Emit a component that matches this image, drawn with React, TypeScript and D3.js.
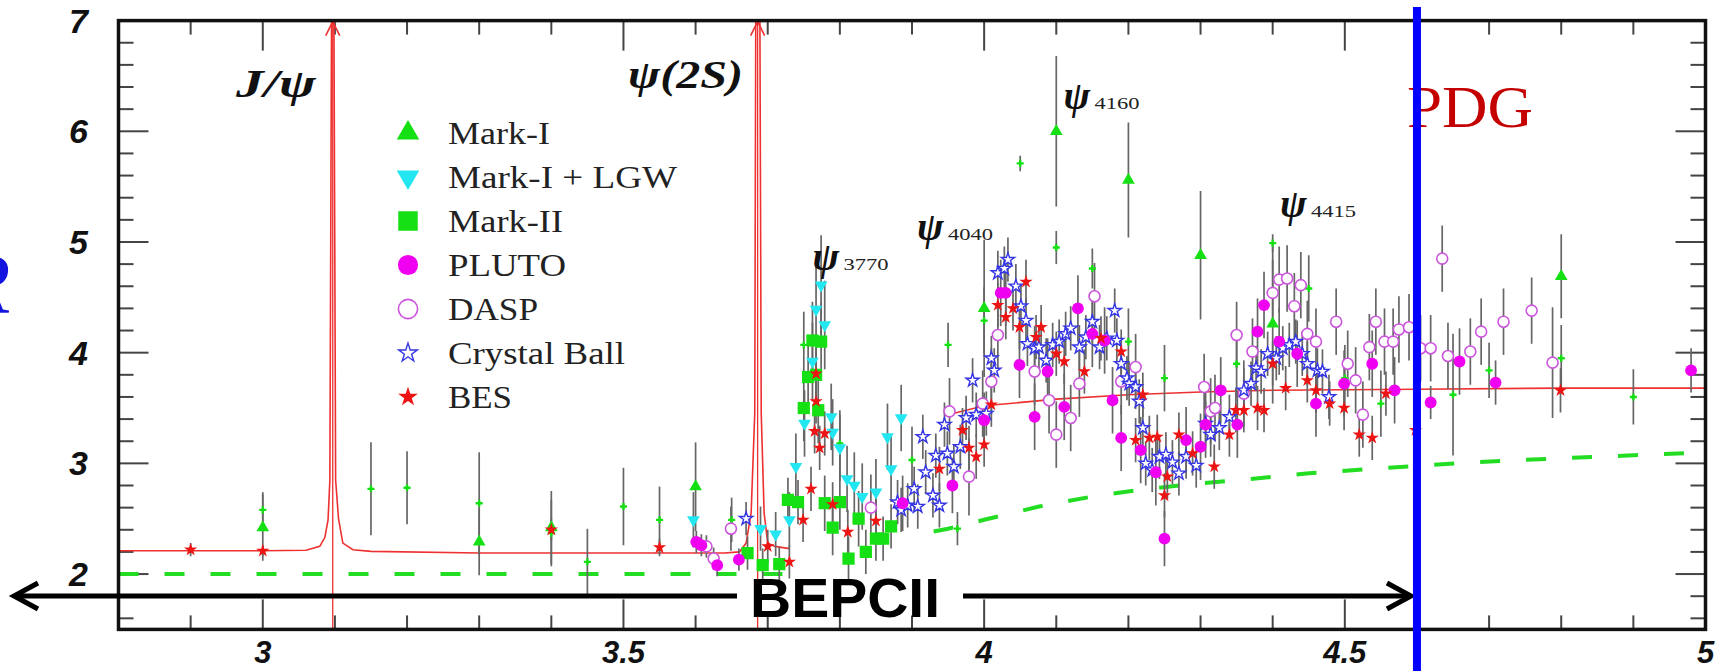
import React from 'react';
import * as d3 from 'd3';

const W = 1717;
const H = 671;
const X_DOMAIN: [number, number] = [2.8, 5];
const Y_DOMAIN: [number, number] = [1.5, 7];

const xTickValues = [3, 3.5, 4, 4.5, 5];
const xTickLabels = ['3', '3.5', '4', '4.5', '5'];
const yTickValues = [2, 3, 4, 5, 6, 7];
const yTickLabels = ['2', '3', '4', '5', '6', '7'];

type P = [number, number, number]; // sqrt(s) GeV, R, error

const markI: P[] = [
  [3.0, 2.42, 0.3], [3.3, 2.29, 0.3], [3.4, 2.42, 0.33], [3.6, 2.79, 0.4], [4.0, 4.4, 0.62],
  [4.1, 6.0, 0.68], [4.2, 5.56, 0.52], [4.3, 4.88, 0.58], [4.4, 4.26, 0.72], [4.8, 4.69, 0.38],
];
const markISmall: P[] = [
  [3.0, 2.58, 0.16], [3.15, 2.77, 0.42], [3.2, 2.78, 0.33], [3.3, 2.64, 0.46], [3.4, 2.37, 0.3],
  [3.45, 2.11, 0.3], [3.5, 2.61, 0.35], [3.55, 2.49, 0.3], [3.65, 2.49, 0.2], [3.75, 4.07, 0.3],
  [3.8, 3.18, 0.3], [3.9, 3.03, 0.3], [3.95, 4.07, 0.2], [3.963, 2.41, 0.15], [4.0, 4.29, 0.3],
  [4.05, 5.71, 0.07], [4.1, 4.95, 0.15], [4.15, 4.76, 0.18], [4.2, 4.1, 0.3], [4.25, 3.77, 0.3],
  [4.35, 3.9, 0.3], [4.4, 4.99, 0.08], [4.45, 4.58, 0.3], [4.5, 3.77, 0.3], [4.55, 3.54, 0.3],
  [4.6, 3.62, 0.3], [4.65, 3.62, 0.55], [4.7, 3.84, 0.25], [4.8, 3.95, 0.3], [4.9, 3.6, 0.25],
];
const markILGW: P[] = [
  [3.597, 2.49, 0.25], [3.69, 2.41, 0.2], [3.711, 2.36, 0.2], [3.73, 2.49, 0.25], [3.739, 2.97, 0.3],
  [3.751, 3.36, 0.3], [3.762, 3.92, 0.35], [3.767, 4.39, 0.4], [3.774, 4.61, 0.45], [3.779, 4.25, 0.4],
  [3.788, 3.42, 0.3], [3.79, 3.28, 0.3], [3.8, 3.14, 0.3], [3.81, 2.86, 0.3], [3.82, 2.8, 0.3],
  [3.831, 2.7, 0.3], [3.85, 2.74, 0.3], [3.866, 3.24, 0.3], [3.871, 2.95, 0.3], [3.885, 3.41, 0.3],
];
const markII: P[] = [
  [3.672, 2.19, 0.15], [3.693, 2.08, 0.15], [3.716, 2.09, 0.15], [3.728, 2.67, 0.2], [3.742, 2.65, 0.2],
  [3.75, 3.5, 0.3], [3.756, 3.78, 0.3], [3.762, 4.11, 0.35], [3.767, 3.8, 0.3], [3.774, 4.1, 0.35],
  [3.77, 3.48, 0.3], [3.779, 2.64, 0.25], [3.79, 2.42, 0.25], [3.8, 2.65, 0.25], [3.812, 2.14, 0.2],
  [3.826, 2.5, 0.25], [3.836, 2.2, 0.2], [3.85, 2.32, 0.2], [3.86, 2.32, 0.2], [3.871, 2.43, 0.2],
];
const pluto: P[] = [
  [3.601, 2.29, 0.1], [3.608, 2.26, 0.1], [3.63, 2.08, 0.1], [3.66, 2.13, 0.1], [3.887, 2.64, 0.25],
  [3.956, 2.8, 0.25], [4.0, 3.39, 0.25], [4.023, 4.54, 0.3], [4.03, 4.54, 0.3], [4.049, 3.89, 0.3],
  [4.07, 3.42, 0.3], [4.088, 3.83, 0.3], [4.111, 3.51, 0.3], [4.13, 4.4, 0.3], [4.15, 4.17, 0.3],
  [4.167, 4.11, 0.3], [4.178, 3.57, 0.3], [4.19, 3.23, 0.3], [4.217, 3.12, 0.3], [4.238, 2.92, 0.3],
  [4.25, 2.32, 0.25], [4.28, 3.21, 0.3], [4.3, 3.15, 0.3], [4.307, 3.35, 0.3], [4.328, 3.66, 0.3],
  [4.351, 3.35, 0.3], [4.379, 4.19, 0.3], [4.388, 4.43, 0.3], [4.409, 4.1, 0.3], [4.434, 3.99, 0.3],
  [4.46, 3.54, 0.3], [4.499, 3.72, 0.3], [4.538, 3.9, 0.3], [4.569, 3.66, 0.3], [4.619, 3.55, 0.15],
  [4.659, 3.92, 0.3], [4.709, 3.73, 0.2], [4.98, 3.84, 0.2],
];
const dasp: P[] = [
  [3.615, 2.25, 0.1], [3.625, 2.14, 0.1], [3.649, 2.41, 0.2], [3.843, 2.6, 0.3], [3.952, 3.47, 0.3],
  [3.979, 2.88, 0.35], [3.998, 3.54, 0.3], [4.01, 3.74, 0.3], [4.019, 4.16, 0.3], [4.07, 3.83, 0.3],
  [4.09, 3.57, 0.3], [4.1, 3.26, 0.3], [4.12, 3.41, 0.3], [4.132, 3.72, 0.3], [4.153, 4.51, 0.3],
  [4.19, 3.74, 0.3], [4.21, 3.87, 0.3], [4.305, 3.69, 0.3], [4.314, 3.47, 0.3], [4.32, 3.5, 0.3],
  [4.35, 4.16, 0.3], [4.36, 3.63, 0.3], [4.372, 4.01, 0.3], [4.4, 4.54, 0.3], [4.409, 4.66, 0.3],
  [4.42, 4.67, 0.3], [4.43, 4.42, 0.3], [4.439, 4.61, 0.3], [4.448, 4.17, 0.3], [4.46, 4.1, 0.3],
  [4.488, 4.28, 0.3], [4.504, 3.9, 0.3], [4.515, 3.75, 0.3], [4.525, 3.44, 0.3], [4.534, 4.05, 0.3],
  [4.543, 4.28, 0.3], [4.555, 4.1, 0.3], [4.567, 4.1, 0.3], [4.575, 4.21, 0.3], [4.589, 4.23, 0.3],
  [4.605, 4.04, 0.3], [4.619, 4.04, 0.3], [4.635, 4.85, 0.3], [4.643, 3.97, 0.3], [4.674, 4.01, 0.3],
  [4.689, 4.19, 0.3], [4.72, 4.28, 0.3], [4.759, 4.38, 0.3], [4.788, 3.91, 0.5],
];
const crystalBall: P[] = [
  [3.67, 2.5, 0.15], [3.88, 2.65, 0.2], [3.885, 2.58, 0.2], [3.894, 2.62, 0.2], [3.903, 2.77, 0.2],
  [3.908, 2.61, 0.2], [3.915, 3.24, 0.2], [3.919, 2.92, 0.2], [3.929, 2.71, 0.2], [3.933, 3.07, 0.2],
  [3.938, 2.62, 0.2], [3.945, 3.35, 0.2], [3.949, 3.09, 0.2], [3.958, 2.97, 0.2], [3.967, 3.15, 0.2],
  [3.975, 3.41, 0.2], [3.984, 3.75, 0.2], [3.989, 3.44, 0.2], [4.003, 3.45, 0.2], [4.01, 3.95, 0.2],
  [4.014, 3.84, 0.2], [4.019, 4.72, 0.2], [4.028, 4.76, 0.2], [4.033, 4.84, 0.2], [4.044, 4.6, 0.2],
  [4.051, 4.42, 0.2], [4.058, 4.29, 0.2], [4.06, 4.08, 0.2], [4.07, 4.04, 0.2], [4.076, 4.05, 0.2],
  [4.086, 3.93, 0.2], [4.095, 4.07, 0.2], [4.104, 4.1, 0.2], [4.113, 4.17, 0.2], [4.12, 4.22, 0.2],
  [4.132, 4.05, 0.2], [4.141, 4.14, 0.2], [4.15, 4.28, 0.2], [4.16, 4.05, 0.2], [4.17, 4.13, 0.2],
  [4.181, 4.38, 0.2], [4.184, 4.11, 0.2], [4.19, 3.9, 0.2], [4.198, 3.77, 0.2], [4.201, 3.72, 0.2],
  [4.21, 3.69, 0.2], [4.215, 3.56, 0.2], [4.22, 3.32, 0.2], [4.224, 3.0, 0.2], [4.233, 2.94, 0.2],
  [4.243, 3.06, 0.2], [4.252, 3.08, 0.2], [4.261, 3.01, 0.2], [4.27, 2.91, 0.2], [4.28, 3.06, 0.2],
  [4.294, 2.98, 0.2], [4.307, 3.36, 0.2], [4.314, 3.26, 0.2], [4.326, 3.32, 0.2], [4.34, 3.42, 0.2],
  [4.36, 3.66, 0.2], [4.37, 3.72, 0.2], [4.377, 3.86, 0.2], [4.384, 3.83, 0.2], [4.393, 3.99, 0.2],
  [4.405, 3.95, 0.2], [4.414, 4.04, 0.2], [4.423, 4.07, 0.2], [4.432, 4.1, 0.2], [4.441, 3.99, 0.2],
  [4.448, 3.9, 0.2], [4.462, 3.84, 0.2], [4.469, 3.83, 0.2], [4.478, 3.6, 0.2],
];
const bes: P[] = [
  [2.9, 2.22, 0.06], [3.0, 2.21, 0.05], [3.4, 2.4, 0.1], [3.55, 2.24, 0.08], [3.7, 2.25, 0.15],
  [3.73, 2.11, 0.15], [3.749, 2.49, 0.2], [3.76, 2.77, 0.2], [3.765, 3.29, 0.2], [3.767, 3.56, 0.2],
  [3.767, 3.81, 0.2], [3.772, 3.14, 0.2], [3.779, 3.27, 0.2], [3.79, 2.63, 0.2], [3.811, 2.38, 0.2],
  [3.85, 2.48, 0.2], [3.938, 2.95, 0.2], [3.97, 3.3, 0.2], [3.979, 3.14, 0.2], [3.989, 3.06, 0.2],
  [4.0, 3.17, 0.2], [4.01, 3.53, 0.2], [4.019, 4.43, 0.2], [4.03, 4.32, 0.2], [4.04, 4.4, 0.2],
  [4.049, 4.23, 0.2], [4.058, 4.64, 0.2], [4.072, 4.14, 0.2], [4.079, 4.23, 0.2], [4.1, 3.99, 0.2],
  [4.111, 3.92, 0.2], [4.139, 3.83, 0.2], [4.162, 4.13, 0.2], [4.19, 4.01, 0.2], [4.21, 3.21, 0.2],
  [4.22, 3.62, 0.2], [4.229, 3.23, 0.2], [4.24, 3.24, 0.2], [4.25, 2.71, 0.2], [4.254, 2.88, 0.2],
  [4.27, 3.26, 0.2], [4.289, 3.09, 0.2], [4.319, 2.97, 0.2], [4.34, 3.26, 0.2], [4.349, 3.48, 0.2],
  [4.36, 3.48, 0.2], [4.379, 3.5, 0.2], [4.388, 3.48, 0.2], [4.4, 3.9, 0.2], [4.418, 3.68, 0.2],
  [4.448, 3.75, 0.2], [4.46, 3.66, 0.2], [4.479, 3.54, 0.2], [4.499, 3.5, 0.2], [4.52, 3.26, 0.2],
  [4.538, 3.23, 0.2], [4.557, 3.63, 0.2], [4.598, 3.3, 0.2], [4.799, 3.66, 0.2],
];

// Theory curves
const fitLow: [number, number][] = [
  [2.8, 2.21], [3.0, 2.21], [3.06, 2.215], [3.079, 2.25], [3.086, 2.33], [3.0905, 2.49], [3.093, 2.85],
  [3.0955, 7.3], [3.0985, 7.3], [3.101, 2.85], [3.105, 2.5], [3.111, 2.28], [3.125, 2.22], [3.15, 2.205],
  [3.3, 2.19], [3.5, 2.19], [3.64, 2.19], [3.661, 2.2], [3.67, 2.28], [3.677, 2.55], [3.682, 3.45],
  [3.6835, 7.3], [3.689, 7.3], [3.691, 3.45], [3.695, 2.55], [3.7, 2.28], [3.71, 2.25], [3.73, 2.23],
];
const fitHigh: [number, number][] = [
  [3.95, 3.44], [4.0, 3.52], [4.1, 3.58], [4.2, 3.62], [4.3, 3.645], [4.4, 3.66], [4.6, 3.67], [4.8, 3.68], [5.0, 3.68],
];
const qcdLow: [number, number][] = [[2.8, 2.0], [3.73, 2.0]];
const qcdHigh: [number, number][] = [
  [3.93, 2.385], [3.95, 2.41], [4.0, 2.49], [4.076, 2.61], [4.15, 2.7], [4.215, 2.76], [4.3, 2.82],
  [4.354, 2.85], [4.45, 2.91], [4.557, 2.96], [4.68, 3.01], [4.779, 3.04], [5.0, 3.1],
];

const resonanceMasses = [3.097, 3.686];
const bepcMax = 4.6;

const legendNames = ['Mark-I', 'Mark-I + LGW', 'Mark-II', 'PLUTO', 'DASP', 'Crystal Ball', 'BES'];
const legendWidths = [102, 229, 115, 118, 90, 177, 64];

const peakLabels = [
  { psi: 'ψ', sub: '3770', x: 3.762, y: 4.75 },
  { psi: 'ψ', sub: '4040', x: 3.907, y: 5.02 },
  { psi: 'ψ', sub: '4160', x: 4.11, y: 6.2 },
  { psi: 'ψ', sub: '4415', x: 4.41, y: 5.23 },
];

const GREEN = '#14e014';
const CYAN = '#22e6f0';
const MAGENTA = '#f000f0';
const VIOLET = '#cc55dd';
const BLUE = '#3535e6';
const RED = '#ee1414';

type Style = { shape: d3.SymbolType; size: number; legendSize: number; fill: string; stroke: string; sw: number; rot: number };

const styles: Record<string, Style> = {
  markI: { shape: d3.symbolTriangle, size: 70, legendSize: 220, fill: GREEN, stroke: 'none', sw: 0, rot: 0 },
  markILGW: { shape: d3.symbolTriangle, size: 70, legendSize: 220, fill: CYAN, stroke: 'none', sw: 0, rot: 180 },
  markII: { shape: d3.symbolSquare, size: 150, legendSize: 380, fill: GREEN, stroke: 'none', sw: 0, rot: 0 },
  pluto: { shape: d3.symbolCircle, size: 110, legendSize: 320, fill: MAGENTA, stroke: 'none', sw: 0, rot: 0 },
  dasp: { shape: d3.symbolCircle, size: 95, legendSize: 290, fill: 'white', stroke: VIOLET, sw: 1.6, rot: 0 },
  crystalBall: { shape: d3.symbolStar, size: 55, legendSize: 110, fill: 'white', stroke: BLUE, sw: 1.4, rot: 0 },
  bes: { shape: d3.symbolStar, size: 55, legendSize: 120, fill: RED, stroke: 'none', sw: 0, rot: 0 },
  small: { shape: d3.symbolCross, size: 28, legendSize: 28, fill: GREEN, stroke: 'none', sw: 0, rot: 0 },
};

const legendKeys = ['markI', 'markILGW', 'markII', 'pluto', 'dasp', 'crystalBall', 'bes'];

export default function App() {
  const x = d3.scaleLinear().domain(X_DOMAIN).range([118.5, 1705.5]);
  const y = d3.scaleLinear().domain(Y_DOMAIN).range([629.4, 20.6]);
  const line = d3.line<[number, number]>().x((d) => x(d[0])).y((d) => y(d[1]));
  const left = x.range()[0];
  const right = x.range()[1];
  const top = y.range()[1];
  const bottom = y.range()[0];

  const seriesDraw: [string, P[]][] = [
    ['small', markISmall],
    ['markI', markI],
    ['markILGW', markILGW],
    ['markII', markII],
    ['dasp', dasp],
    ['crystalBall', crystalBall],
    ['pluto', pluto],
    ['bes', bes],
  ];

  const sym = (key: string, legend = false) => {
    const s = styles[key];
    return d3.symbol().type(s.shape).size(legend ? s.legendSize : s.size)() || '';
  };

  const yMinor = d3.range(16, 70, 2).map((v) => v / 10);
  const xMinor = d3.range(29, 50, 1).map((v) => v / 10);

  const serif = "'Liberation Serif', 'Times New Roman', serif";
  const sans = "'Liberation Sans', Arial, sans-serif";

  const bepcY = 596;

  return (
    <svg width={W} height={H} style={{ position: 'absolute', left: 0, top: 0, background: 'white' }}>
      <defs>
        <clipPath id="plotClip">
          <rect x={left} y={top} width={right - left} height={bottom - top} />
        </clipPath>
      </defs>
      <rect x={0} y={0} width={W} height={H} fill="white" />

      {/* partial blue axis title at far left */}
      <text x={-42} y={313} fontSize={86} fontStyle="italic" fontFamily={serif} fill="#1414e0">R</text>

      {/* ticks */}
      <g stroke="#444" strokeWidth={2}>
        {yMinor.map((v) => {
          const major = Math.abs(v - Math.round(v)) < 1e-6;
          const len = major ? 30 : 15;
          return (
            <g key={'ym' + v}>
              <line x1={left} x2={left + len} y1={y(v)} y2={y(v)} />
              <line x1={right} x2={right - len} y1={y(v)} y2={y(v)} />
            </g>
          );
        })}
        {xMinor.map((v) => {
          const major = Math.abs(v * 2 - Math.round(v * 2)) < 1e-6;
          const len = major ? 30 : 14;
          return (
            <g key={'xm' + v}>
              <line x1={x(v)} x2={x(v)} y1={top} y2={top + len} />
              <line x1={x(v)} x2={x(v)} y1={bottom} y2={bottom - len} />
            </g>
          );
        })}
      </g>

      {/* tick labels */}
      {yTickValues.map((v, i) => (
        <text key={'yl' + v} x={88} y={y(v) + 12} textAnchor="end" fontSize={34} fontWeight="bold" fontStyle="italic" fontFamily={sans} fill="#111">
          {yTickLabels[i]}
        </text>
      ))}
      {xTickValues.map((v, i) => (
        <text key={'xl' + v} x={x(v)} y={663} textAnchor="middle" fontSize={31} fontWeight="bold" fontStyle="italic" fontFamily={sans} fill="#111">
          {xTickLabels[i]}
        </text>
      ))}

      {/* curves */}
      <g clipPath="url(#plotClip)">
        <path d={line(qcdLow) || ''} fill="none" stroke="#22dd22" strokeWidth={4} strokeDasharray="20 26" />
        <path d={line(qcdHigh) || ''} fill="none" stroke="#22dd22" strokeWidth={4} strokeDasharray="20 26" />
        {resonanceMasses.map((m) => (
          <line key={'res' + m} x1={x(m)} x2={x(m)} y1={top} y2={bottom} stroke="#ee3030" strokeWidth={1.3} />
        ))}
        <path d={line(fitLow) || ''} fill="none" stroke="#ee3030" strokeWidth={1.6} />
        <path d={line(fitHigh) || ''} fill="none" stroke="#ee3030" strokeWidth={1.6} />
      </g>
      {resonanceMasses.map((m) => (
        <path
          key={'arr' + m}
          d={`M${x(m) - 7},${top + 15} L${x(m)},${top + 1} L${x(m) + 7},${top + 15}`}
          fill="none"
          stroke="#ee3030"
          strokeWidth={1.6}
        />
      ))}

      {/* error bars */}
      <g stroke="#666" strokeWidth={1.7} clipPath="url(#plotClip)">
        {seriesDraw.map(([key, arr]) =>
          arr.map((d, i) => (
            <line key={key + 'e' + i} x1={x(d[0])} x2={x(d[0])} y1={y(d[1] - d[2])} y2={y(d[1] + d[2])} />
          ))
        )}
      </g>

      {/* markers */}
      <g clipPath="url(#plotClip)">
        {seriesDraw.map(([key, arr]) => {
          const s = styles[key];
          const p = sym(key);
          return arr.map((d, i) => (
            <path
              key={key + 'm' + i}
              d={p}
              transform={`translate(${x(d[0])},${y(d[1])}) rotate(${s.rot})`}
              fill={s.fill}
              stroke={s.stroke}
              strokeWidth={s.sw}
            />
          ));
        })}
      </g>

      {/* legend */}
      {legendKeys.map((key, i) => {
        const s = styles[key];
        const cy = 133 + i * 44;
        return (
          <g key={'lg' + key}>
            <path d={sym(key, true)} transform={`translate(408,${cy}) rotate(${s.rot})`} fill={s.fill} stroke={s.stroke} strokeWidth={s.sw} />
            <text x={448} y={cy + 11} fontSize={31} fontFamily={serif} fill="#222" textLength={legendWidths[i]} lengthAdjust="spacingAndGlyphs">
              {legendNames[i]}
            </text>
          </g>
        );
      })}

      {/* resonance labels */}
      <text x={316} y={97} textAnchor="end" fontSize={40} fontWeight="bold" fontStyle="italic" fontFamily={serif} fill="#111" textLength={80} lengthAdjust="spacingAndGlyphs">
        J/ψ
      </text>
      <text x={628} y={88} fontSize={40} fontWeight="bold" fontStyle="italic" fontFamily={serif} fill="#111" textLength={115} lengthAdjust="spacingAndGlyphs">
        ψ(2S)
      </text>
      {peakLabels.map((p) => (
        <g key={'pk' + p.sub}>
          <text x={x(p.x)} y={y(p.y)} fontSize={40} fontWeight="bold" fontStyle="italic" fontFamily={serif} fill="#111">
            {p.psi}
          </text>
          <text x={x(p.x) + 31} y={y(p.y)} fontSize={17} fontFamily={serif} fill="#222" textLength={45} lengthAdjust="spacingAndGlyphs">
            {p.sub}
          </text>
        </g>
      ))}

      {/* frame */}
      <rect x={left} y={top} width={right - left} height={bottom - top} fill="none" stroke="#111" strokeWidth={3.5} />

      {/* PDG */}
      <text x={1407} y={127} fontSize={60} fontFamily={serif} fill="#c40000" textLength={126} lengthAdjust="spacingAndGlyphs">
        PDG
      </text>

      {/* BEPCII range arrow */}
      <g stroke="#000" strokeWidth={5} fill="none">
        <line x1={14} x2={737} y1={bepcY} y2={bepcY} />
        <line x1={963} x2={x(bepcMax) - 6} y1={bepcY} y2={bepcY} />
        <path d={`M38,${bepcY - 13} L14,${bepcY} L38,${bepcY + 13}`} />
        <path d={`M${x(bepcMax) - 30},${bepcY - 13} L${x(bepcMax) - 6},${bepcY} L${x(bepcMax) - 30},${bepcY + 13}`} />
      </g>
      <text x={750} y={617} fontSize={56} fontWeight="bold" fontFamily={sans} fill="#000" textLength={190} lengthAdjust="spacingAndGlyphs">
        BEPCII
      </text>

      {/* blue boundary line */}
      <line x1={x(bepcMax)} x2={x(bepcMax)} y1={7} y2={H} stroke="#0000ff" strokeWidth={8} />
    </svg>
  );
}
